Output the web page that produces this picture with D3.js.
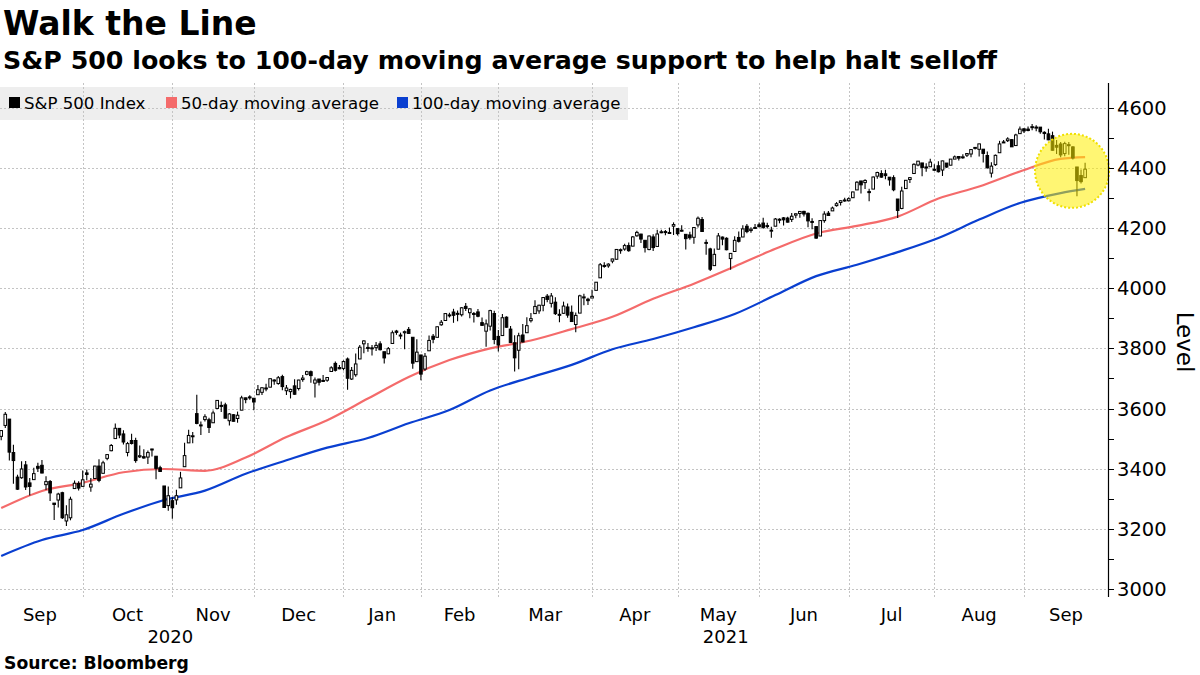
<!DOCTYPE html>
<html><head><meta charset="utf-8">
<script src="https://cdn.jsdelivr.net/npm/d3@7"></script>
<style>body{margin:0;background:#fff} svg{display:block}</style>
</head><body><svg id="c" width="1200" height="675"></svg>
<script>
const dates = ["2020-09-01","2020-09-02","2020-09-03","2020-09-04","2020-09-08","2020-09-09","2020-09-10","2020-09-11","2020-09-14","2020-09-15","2020-09-16","2020-09-17","2020-09-18","2020-09-21","2020-09-22","2020-09-23","2020-09-24","2020-09-25","2020-09-28","2020-09-29","2020-09-30",
"2020-10-01","2020-10-02","2020-10-05","2020-10-06","2020-10-07","2020-10-08","2020-10-09","2020-10-12","2020-10-13","2020-10-14","2020-10-15","2020-10-16","2020-10-19","2020-10-20","2020-10-21","2020-10-22","2020-10-23","2020-10-26","2020-10-27","2020-10-28","2020-10-29","2020-10-30",
"2020-11-02","2020-11-03","2020-11-04","2020-11-05","2020-11-06","2020-11-09","2020-11-10","2020-11-11","2020-11-12","2020-11-13","2020-11-16","2020-11-17","2020-11-18","2020-11-19","2020-11-20","2020-11-23","2020-11-24","2020-11-25","2020-11-27","2020-11-30",
"2020-12-01","2020-12-02","2020-12-03","2020-12-04","2020-12-07","2020-12-08","2020-12-09","2020-12-10","2020-12-11","2020-12-14","2020-12-15","2020-12-16","2020-12-17","2020-12-18","2020-12-21","2020-12-22","2020-12-23","2020-12-24","2020-12-28","2020-12-29","2020-12-30","2020-12-31",
"2021-01-04","2021-01-05","2021-01-06","2021-01-07","2021-01-08","2021-01-11","2021-01-12","2021-01-13","2021-01-14","2021-01-15","2021-01-19","2021-01-20","2021-01-21","2021-01-22","2021-01-25","2021-01-26","2021-01-27","2021-01-28","2021-01-29",
"2021-02-01","2021-02-02","2021-02-03","2021-02-04","2021-02-05","2021-02-08","2021-02-09","2021-02-10","2021-02-11","2021-02-12","2021-02-16","2021-02-17","2021-02-18","2021-02-19","2021-02-22","2021-02-23","2021-02-24","2021-02-25","2021-02-26",
"2021-03-01","2021-03-02","2021-03-03","2021-03-04","2021-03-05","2021-03-08","2021-03-09","2021-03-10","2021-03-11","2021-03-12","2021-03-15","2021-03-16","2021-03-17","2021-03-18","2021-03-19","2021-03-22","2021-03-23","2021-03-24","2021-03-25","2021-03-26","2021-03-29","2021-03-30","2021-03-31",
"2021-04-01","2021-04-05","2021-04-06","2021-04-07","2021-04-08","2021-04-09","2021-04-12","2021-04-13","2021-04-14","2021-04-15","2021-04-16","2021-04-19","2021-04-20","2021-04-21","2021-04-22","2021-04-23","2021-04-26","2021-04-27","2021-04-28","2021-04-29","2021-04-30",
"2021-05-03","2021-05-04","2021-05-05","2021-05-06","2021-05-07","2021-05-10","2021-05-11","2021-05-12","2021-05-13","2021-05-14","2021-05-17","2021-05-18","2021-05-19","2021-05-20","2021-05-21","2021-05-24","2021-05-25","2021-05-26","2021-05-27","2021-05-28",
"2021-06-01","2021-06-02","2021-06-03","2021-06-04","2021-06-07","2021-06-08","2021-06-09","2021-06-10","2021-06-11","2021-06-14","2021-06-15","2021-06-16","2021-06-17","2021-06-18","2021-06-21","2021-06-22","2021-06-23","2021-06-24","2021-06-25","2021-06-28","2021-06-29","2021-06-30",
"2021-07-01","2021-07-02","2021-07-06","2021-07-07","2021-07-08","2021-07-09","2021-07-12","2021-07-13","2021-07-14","2021-07-15","2021-07-16","2021-07-19","2021-07-20","2021-07-21","2021-07-22","2021-07-23","2021-07-26","2021-07-27","2021-07-28","2021-07-29","2021-07-30",
"2021-08-02","2021-08-03","2021-08-04","2021-08-05","2021-08-06","2021-08-09","2021-08-10","2021-08-11","2021-08-12","2021-08-13","2021-08-16","2021-08-17","2021-08-18","2021-08-19","2021-08-20","2021-08-23","2021-08-24","2021-08-25","2021-08-26","2021-08-27","2021-08-30","2021-08-31",
"2021-09-01","2021-09-02","2021-09-03","2021-09-07","2021-09-08","2021-09-09","2021-09-10","2021-09-13","2021-09-14","2021-09-15","2021-09-16","2021-09-17","2021-09-20","2021-09-21","2021-09-22"];

const opens = [3507.44,3543.76,3564.74,3453.60,3371.88,3369.82,3412.56,3352.70,3363.56,3407.73,3411.23,3346.86,3357.38,3285.57,3295.75,3320.11,3226.14,3236.66,3333.90,3350.92,3341.21,
3385.87,3338.94,3367.27,3408.74,3384.56,3434.28,3459.67,3500.02,3534.01,3515.47,3453.72,3493.50,3493.66,3439.38,3439.91,3438.50,3464.90,3441.42,3403.15,3342.48,3277.17,3293.59,
3296.20,3336.25,3406.46,3485.74,3508.34,3583.04,3543.26,3563.22,3562.67,3552.57,3600.16,3610.31,3612.09,3559.41,3579.31,3566.82,3594.52,3635.50,3638.55,3634.18,
3645.87,3653.78,3668.28,3670.94,3694.73,3683.05,3705.98,3659.13,3656.08,3675.27,3666.41,3696.25,3713.65,3722.39,3684.28,3698.08,3693.42,3694.03,3723.03,3750.01,3736.19,3733.27,
3764.61,3698.02,3712.20,3764.71,3815.05,3803.14,3801.62,3802.23,3814.98,3788.73,3781.88,3816.22,3857.46,3844.24,3851.68,3862.96,3836.83,3755.75,3778.05,
3731.17,3791.84,3840.27,3836.66,3878.30,3892.59,3910.49,3920.78,3916.40,3911.65,3939.61,3918.50,3915.86,3921.16,3885.55,3857.07,3873.71,3915.80,3839.66,
3842.51,3903.64,3863.99,3818.53,3793.58,3844.39,3851.93,3891.99,3915.54,3924.52,3942.96,3973.59,3949.57,3953.50,3913.14,3916.48,3937.60,3919.93,3879.34,3917.12,3969.31,3963.34,3967.25,
3992.78,4034.44,4075.57,4074.29,4089.95,4096.11,4124.71,4130.10,4141.58,4139.76,4174.14,4179.80,4159.18,4128.42,4170.46,4138.78,4185.03,4188.25,4185.14,4206.14,4198.10,
4191.98,4179.04,4177.06,4169.14,4210.34,4228.29,4150.34,4130.55,4074.99,4129.58,4169.92,4165.94,4098.45,4121.97,4168.61,4170.16,4205.94,4191.59,4201.94,4210.77,
4216.52,4206.82,4191.43,4206.05,4229.34,4233.81,4232.99,4228.56,4242.90,4248.31,4255.28,4248.87,4220.37,4204.78,4173.40,4224.61,4249.27,4256.97,4274.45,4284.90,4293.21,4290.65,
4300.73,4326.60,4356.46,4351.01,4321.07,4329.38,4372.41,4381.07,4380.11,4369.02,4367.43,4296.40,4265.11,4331.13,4361.27,4381.20,4409.58,4416.38,4402.95,4403.59,4395.12,
4406.86,4392.74,4415.95,4408.86,4429.07,4437.77,4435.79,4442.18,4446.08,4464.84,4461.65,4462.12,4440.94,4382.44,4410.56,4450.29,4484.40,4490.45,4493.75,4474.10,4513.76,4529.75,
4528.80,4534.48,4532.42,4535.38,4518.09,4513.02,4506.92,4474.81,4479.33,4447.49,4477.09,4469.74,4402.95,4374.45,4367.43];

const highs = [3528.03,3588.11,3564.85,3479.15,3379.97,3424.77,3425.55,3368.95,3402.93,3419.48,3428.92,3375.17,3362.27,3285.57,3320.31,3323.35,3278.70,3306.88,3360.74,3357.92,3393.56,
3397.18,3369.10,3409.57,3431.56,3426.26,3447.28,3482.34,3549.85,3534.01,3527.94,3489.08,3515.76,3502.42,3476.93,3464.86,3460.53,3466.46,3441.42,3409.51,3342.48,3341.05,3304.93,
3330.14,3389.49,3486.25,3529.05,3521.58,3645.99,3557.22,3581.16,3569.02,3593.66,3628.51,3623.11,3619.09,3585.22,3581.23,3589.81,3642.31,3635.50,3644.31,3634.18,
3678.45,3670.96,3682.73,3699.20,3697.41,3708.45,3712.39,3678.49,3665.91,3697.61,3695.29,3711.27,3725.12,3726.70,3702.90,3698.26,3711.24,3703.82,3740.51,3756.12,3744.63,3760.20,
3769.99,3737.83,3783.04,3811.55,3826.69,3817.86,3810.78,3820.96,3823.60,3788.73,3804.53,3859.75,3861.45,3852.31,3859.23,3870.90,3836.83,3830.50,3778.05,
3784.32,3843.09,3847.51,3872.42,3894.56,3915.77,3918.35,3931.50,3925.99,3937.23,3950.43,3933.61,3921.04,3930.41,3902.92,3895.98,3928.65,3925.02,3861.08,
3914.50,3906.41,3874.47,3843.67,3851.69,3881.06,3903.76,3917.35,3960.27,3944.99,3970.08,3981.04,3983.87,3969.62,3930.12,3955.31,3949.13,3942.08,3919.54,3978.19,3981.83,3968.01,3994.41,
4020.63,4083.42,4086.23,4083.13,4098.19,4129.48,4131.76,4148.00,4151.69,4173.49,4191.31,4180.81,4159.18,4175.02,4179.57,4194.17,4194.19,4193.35,4201.53,4218.78,4198.10,
4209.39,4179.04,4187.72,4202.70,4238.04,4236.39,4162.04,4134.73,4131.58,4183.13,4171.92,4169.15,4116.93,4172.80,4188.72,4209.52,4213.42,4202.61,4213.38,4218.36,
4234.12,4217.37,4204.39,4233.45,4232.34,4236.74,4237.09,4249.74,4248.38,4255.59,4257.16,4251.89,4232.29,4204.78,4226.24,4255.84,4256.60,4271.28,4286.12,4292.14,4300.52,4302.43,
4320.66,4355.43,4356.46,4361.88,4330.88,4371.60,4386.68,4392.37,4393.68,4369.02,4375.09,4296.40,4336.84,4359.70,4369.87,4415.18,4422.73,4416.38,4415.47,4429.97,4412.25,
4422.18,4423.79,4416.17,4429.76,4440.82,4439.39,4445.21,4449.44,4461.77,4468.37,4480.26,4462.12,4454.32,4418.61,4444.35,4489.88,4492.81,4501.71,4495.90,4513.33,4537.36,4531.39,
4537.11,4545.85,4541.45,4535.38,4521.79,4529.90,4520.47,4492.99,4485.68,4486.87,4485.87,4471.52,4402.95,4394.87,4416.75];

const lows = [3494.60,3535.23,3427.41,3349.63,3329.27,3366.84,3329.25,3310.47,3363.56,3389.25,3384.45,3328.82,3292.40,3229.10,3270.95,3232.57,3209.45,3228.44,3332.91,3327.54,3340.47,
3361.39,3323.69,3367.27,3354.54,3384.56,3428.15,3458.07,3499.61,3500.86,3480.55,3440.89,3480.45,3419.93,3435.65,3433.06,3415.34,3440.45,3364.86,3388.71,3268.89,3259.82,3233.94,
3279.74,3336.25,3405.17,3485.74,3484.34,3547.48,3511.91,3557.00,3518.58,3552.57,3600.16,3588.68,3567.33,3543.84,3556.85,3552.77,3594.52,3617.76,3629.33,3594.39,
3645.87,3644.84,3657.17,3670.94,3678.88,3678.83,3660.54,3645.18,3633.40,3645.84,3659.62,3688.57,3710.87,3685.84,3636.48,3676.16,3689.28,3689.32,3723.03,3723.31,3730.21,3726.88,
3662.71,3695.07,3705.34,3764.71,3783.60,3789.02,3776.51,3791.50,3792.86,3749.62,3780.37,3816.22,3845.05,3830.41,3797.16,3847.78,3732.48,3755.75,3694.12,
3725.62,3791.84,3816.68,3836.66,3874.93,3892.59,3902.64,3884.94,3890.39,3905.78,3923.85,3900.43,3885.74,3903.07,3874.71,3805.59,3859.60,3814.04,3789.54,
3842.51,3868.57,3818.86,3723.34,3730.19,3819.25,3851.93,3885.73,3915.54,3915.21,3923.54,3953.44,3935.74,3910.86,3886.75,3914.16,3901.57,3889.07,3853.50,3917.12,3943.25,3944.35,3966.98,
3992.78,4034.44,4068.14,4068.31,4082.54,4095.51,4114.82,4124.43,4120.87,4139.76,4170.75,4150.47,4118.38,4126.35,4123.69,4138.78,4182.36,4176.22,4181.78,4176.81,4174.85,
4188.03,4128.59,4160.94,4147.33,4201.64,4188.13,4111.53,4056.88,4074.99,4129.58,4142.69,4125.99,4061.41,4121.97,4151.72,4170.16,4182.52,4184.11,4197.78,4203.57,
4197.59,4198.27,4167.93,4206.05,4215.66,4208.41,4218.74,4220.34,4232.25,4234.07,4238.35,4202.45,4196.05,4164.40,4173.40,4217.27,4241.43,4256.97,4271.16,4274.67,4286.96,4287.96,
4300.73,4326.60,4314.37,4329.79,4289.37,4329.38,4364.03,4366.92,4362.36,4340.70,4322.53,4233.13,4262.05,4331.13,4350.06,4381.20,4405.45,4372.51,4387.01,4403.59,4389.65,
4384.81,4373.00,4400.23,4408.86,4429.07,4424.74,4430.03,4436.42,4435.46,4460.82,4437.66,4417.83,4397.59,4367.73,4406.80,4450.29,4482.70,4485.66,4468.99,4474.10,4513.76,4515.80,
4522.02,4524.66,4521.94,4513.00,4493.95,4492.07,4457.66,4445.70,4435.46,4438.37,4443.80,4427.76,4305.91,4347.96,4367.43];

const closes = [3526.65,3580.84,3455.06,3426.96,3331.84,3398.96,3339.19,3340.97,3383.54,3401.20,3385.49,3357.01,3319.47,3281.06,3315.57,3236.92,3246.59,3298.46,3351.60,3335.47,3363.00,
3380.80,3348.42,3408.60,3360.97,3419.44,3446.83,3477.14,3534.22,3511.93,3488.67,3483.34,3483.81,3426.92,3443.12,3435.56,3453.49,3465.39,3400.97,3390.68,3271.03,3310.11,3269.96,
3310.24,3369.16,3443.44,3510.45,3509.44,3550.50,3545.53,3572.66,3537.01,3585.15,3626.91,3609.53,3567.79,3581.87,3557.54,3577.59,3635.41,3629.65,3638.35,3621.63,
3662.45,3669.01,3666.72,3699.12,3691.96,3702.25,3672.82,3668.10,3663.46,3647.49,3694.62,3701.17,3722.48,3709.41,3694.92,3687.26,3690.01,3703.06,3735.36,3727.04,3732.04,3756.07,
3700.65,3726.86,3748.14,3803.79,3824.68,3799.61,3801.19,3809.84,3795.54,3768.25,3798.91,3851.85,3853.07,3841.47,3855.36,3849.62,3750.77,3787.38,3714.24,
3773.86,3826.31,3830.17,3871.74,3886.83,3915.59,3911.23,3909.88,3916.38,3934.83,3932.59,3931.33,3913.97,3906.71,3876.50,3881.37,3925.43,3829.34,3811.15,
3901.82,3870.29,3819.72,3768.47,3841.94,3821.35,3875.44,3898.81,3939.34,3943.34,3968.94,3962.71,3974.12,3915.46,3913.10,3940.59,3910.52,3889.14,3909.52,3974.54,3971.09,3958.55,3972.89,
4019.87,4077.91,4073.94,4079.95,4097.17,4128.80,4127.99,4141.59,4124.66,4170.42,4185.47,4163.26,4134.94,4173.42,4134.98,4180.17,4187.62,4186.72,4183.18,4211.47,4181.17,
4192.66,4164.66,4167.59,4201.62,4232.60,4188.43,4152.10,4063.04,4112.50,4173.85,4163.29,4127.83,4115.68,4159.12,4155.86,4197.05,4188.13,4195.99,4200.88,4204.11,
4202.04,4208.12,4192.85,4229.89,4226.52,4227.26,4219.55,4239.18,4247.44,4255.15,4246.59,4223.70,4221.86,4166.45,4224.79,4246.44,4241.84,4266.49,4280.70,4290.61,4291.80,4297.50,
4319.94,4352.34,4343.54,4358.13,4320.82,4369.55,4384.63,4369.21,4374.30,4360.03,4327.16,4258.49,4323.06,4358.69,4367.48,4411.79,4422.30,4401.46,4400.64,4419.15,4395.26,
4387.16,4423.15,4402.66,4429.10,4436.52,4432.35,4436.75,4447.70,4460.83,4468.00,4479.71,4448.08,4400.27,4405.80,4441.67,4479.53,4486.23,4496.19,4469.91,4509.37,4528.79,4522.68,
4524.09,4536.95,4535.43,4520.03,4514.07,4493.28,4458.58,4468.73,4443.05,4480.70,4473.75,4432.99,4357.73,4354.19,4395.64];

// moving averages, at these trading-day positions
const maIndex = [0,10,20,30,40,50,60,70,80,90,100,110,120,130,140,150,160,170,180,190,200,210,220,230,240,250,260,266];
const ma50 = [3269,3326,3353,3388,3399,3393,3437,3505,3561,3633,3705,3761,3800,3826,3864,3905,3965,4015,4072,4131,4182,4207,4238,4298,4338,4388,4430,4436];
const ma100 = [3110,3163,3196,3250,3296,3327,3383,3428,3470,3502,3551,3595,3660,3704,3745,3797,3831,3870,3914,3977,4040,4078,4120,4167,4228,4283,4316,4330];

const yMajor = [3000,3200,3400,3600,3800,4000,4200,4400,4600];
const yMinor = [3100,3300,3500,3700,3900,4100,4300,4500];
const monthNames = ["Jan","Feb","Mar","Apr","May","Jun","Jul","Aug","Sep","Oct","Nov","Dec"];
const seriesNames = ["S&P 500 Index","50-day moving average","100-day moving average"];
const seriesColors = ["#000000","#f46b6b","#0a3fd0"];
const highlight = {index: 262.8, level: 4390};

const svg = d3.select("#c");
const plotL = 0, plotR = 1108, plotT = 83, plotB = 597;
const x = d3.scaleLinear().domain([0, dates.length - 1]).range([1.2, 1085.1]);
const y = d3.scaleLinear().domain([3000, 4600]).range([589, 107.7]);

// legend background
svg.append("rect").attr("x", 0).attr("y", 87).attr("width", 628).attr("height", 33).attr("fill", "#eeeeee");

// month boundaries
const parsed = dates.map(d => d.split("-").map(Number));
const monthStarts = [];
parsed.forEach((p, i) => {
  if (i === 0 || p[1] !== parsed[i-1][1]) monthStarts.push({i, y: p[0], m: p[1]});
});
const gx = i => x(i - 1);

const grid = svg.append("g").attr("stroke", "#c4c4c4").attr("stroke-width", 1).attr("stroke-dasharray", "2,2").attr("fill", "none");
yMajor.forEach(v => grid.append("line").attr("x1", plotL).attr("x2", plotR).attr("y1", Math.round(y(v)) + 0.5).attr("y2", Math.round(y(v)) + 0.5));
monthStarts.slice(1).forEach(ms => grid.append("line").attr("x1", Math.round(gx(ms.i)) + 0.5).attr("x2", Math.round(gx(ms.i)) + 0.5).attr("y1", plotT).attr("y2", plotB));

// moving averages
const line = d3.line().x((d, k) => x(maIndex[k])).y(d => y(d)).curve(d3.curveMonotoneX);
svg.append("path").datum(ma50).attr("d", line).attr("fill", "none").attr("stroke", seriesColors[1]).attr("stroke-width", 2.2);
svg.append("path").datum(ma100).attr("d", line).attr("fill", "none").attr("stroke", seriesColors[2]).attr("stroke-width", 2.2);

// candles
const cg = svg.append("g");
const bw = 2.6;
dates.forEach((d, i) => {
  const cx = x(i);
  const o = opens[i], c = closes[i];
  cg.append("line").attr("x1", cx).attr("x2", cx).attr("y1", y(highs[i])).attr("y2", y(lows[i])).attr("stroke", "#000").attr("stroke-width", 1.1);
  const top = y(Math.max(o, c)), bot = y(Math.min(o, c));
  const h = Math.max(1, bot - top);
  const up = c >= o;
  cg.append("rect").attr("x", cx - bw/2).attr("y", top).attr("width", bw).attr("height", h)
    .attr("fill", up ? "#fff" : "#000").attr("stroke", "#000").attr("stroke-width", 1);
});

// highlight circle
svg.append("circle").attr("cx", x(highlight.index)).attr("cy", y(highlight.level)).attr("r", 37)
  .attr("fill", "#ffee00").attr("fill-opacity", 0.55)
  .attr("stroke", "#f0e000").attr("stroke-width", 2).attr("stroke-dasharray", "2,2");

// y axis
const ax = svg.append("g");
ax.append("line").attr("x1", plotR + 0.5).attr("x2", plotR + 0.5).attr("y1", plotT).attr("y2", plotB).attr("stroke", "#000").attr("stroke-width", 1.2);
yMajor.concat(yMinor).forEach(v => ax.append("line").attr("x1", plotR).attr("x2", plotR + 6).attr("y1", Math.round(y(v)) + 0.5).attr("y2", Math.round(y(v)) + 0.5).attr("stroke", "#000"));
yMajor.forEach(v => ax.append("text").attr("x", 1117).attr("y", y(v)).attr("dy", "0.36em")
  .attr("font-family", "DejaVu Sans").attr("font-size", 19.5).attr("fill", "#000").text(v));
svg.append("text").attr("transform", "translate(1177,342) rotate(90)").attr("text-anchor", "middle")
  .attr("font-family", "DejaVu Sans").attr("font-size", 23).attr("fill", "#000").text("Level");

// x labels
const tx = svg.append("g").attr("font-family", "DejaVu Sans").attr("font-size", 18).attr("fill", "#000").attr("text-anchor", "middle");
monthStarts.forEach((ms, k) => {
  const a = gx(ms.i);
  const b = k + 1 < monthStarts.length ? gx(monthStarts[k+1].i) : plotR;
  tx.append("text").attr("x", (a + b) / 2).attr("y", 621).text(monthNames[ms.m - 1]);
});
const years = Array.from(new Set(monthStarts.map(m => m.y)));
years.forEach(yr => {
  const ms = monthStarts.filter(m => m.y === yr);
  const a = Math.max(gx(ms[0].i), -3);
  const nxt = monthStarts.find(m => m.y > yr);
  const b = nxt ? gx(nxt.i) : plotR;
  tx.append("text").attr("x", (a + b) / 2).attr("y", 643).text(yr);
});

// legend
const lg = svg.append("g").attr("font-family", "DejaVu Sans").attr("font-size", 16.6).attr("fill", "#000");
const legX = [9, 166, 397];
seriesNames.forEach((n, k) => {
  lg.append("rect").attr("x", legX[k]).attr("y", 97).attr("width", 11).attr("height", 11).attr("fill", seriesColors[k]);
  lg.append("text").attr("x", legX[k] + 15).attr("y", 109).text(n);
});

// titles
svg.append("text").attr("x", 3).attr("y", 35).attr("font-family", "DejaVu Sans").attr("font-weight", "bold").attr("font-size", 33).text("Walk the Line");
svg.append("text").attr("x", 3).attr("y", 69).attr("font-family", "DejaVu Sans").attr("font-weight", "bold").attr("font-size", 25.3).text("S&P 500 looks to 100-day moving average support to help halt selloff");
svg.append("text").attr("x", 4).attr("y", 669).attr("font-family", "DejaVu Sans").attr("font-weight", "bold").attr("font-size", 17.2).text("Source: Bloomberg");
</script></body></html>
